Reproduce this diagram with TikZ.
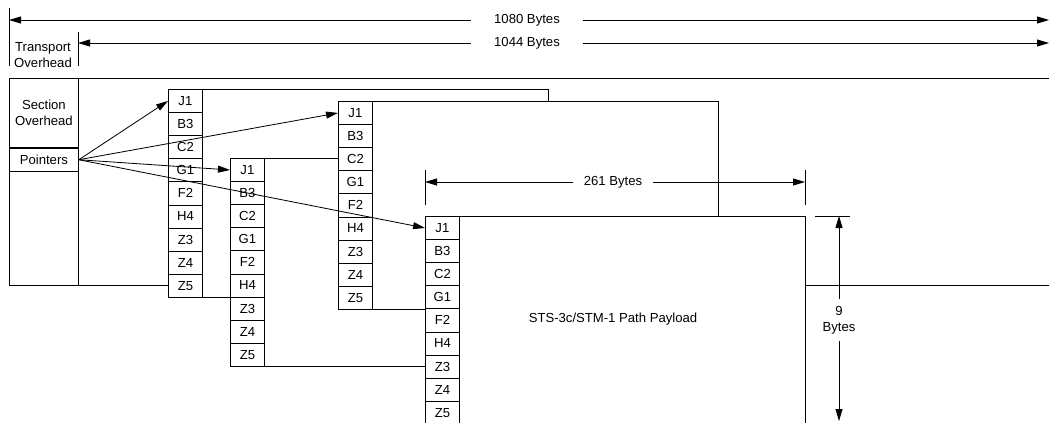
\documentclass[tikz,border=0pt]{standalone}
\usepackage{fontspec}
\setmainfont{Liberation Sans}
\usetikzlibrary{arrows.meta,positioning}

\begin{document}
\begin{tikzpicture}[
			x=0.03cm,y=-0.03cm,
			line width=0.7pt,
			every node/.style={font=\fontsize{11.2}{13.6}\selectfont,align=center},
			ohbox/.style={draw,minimum width=2.07cm,inner sep=0pt},
			cell/.style={draw,fill=white,minimum width=1.02cm,minimum height=0.693cm,inner sep=0pt,anchor=north west},
			arr/.style={-{Triangle[length=3.6mm,width=2.1mm]}},
			dim/.style={{Triangle[length=3.6mm,width=2.1mm]}-{Triangle[length=3.6mm,width=2.1mm]}},
			lbl/.style={fill=white,inner ysep=1pt}
			]
			\useasboundingbox (0,0) rectangle (1049,422);
			% frame of the whole row
			\draw (1049,78) -- (9,78) -- (9,285) -- (1049,285);
			\draw (78,78) -- (78,285);
			\node[ohbox,anchor=north west,minimum height=2.07cm] (soh) at (9,78) {Section\\Overhead};
			\node[ohbox,below=0pt of soh,minimum height=0.69cm] (ptr) {Pointers};
			% the four payload frames, back to front
			\foreach \f/\fx/\fy in {a/168/89, c/230/158, b/338/101, d/425/216} {
				\draw[fill=white] (\fx,\fy) rectangle ++(380,208);
				\foreach \lab [count=\i] in {J1,B3,C2,G1,F2,H4,Z3,Z4,Z5}
					\node[cell] (\f\lab) at (\fx,{\fy+(\i-1)*23.1}) {\lab};
			}
			\node (pay) at (613,319) {STS-3c/STM-1 Path Payload};
			\foreach \t in {aJ1,bJ1,cJ1,dJ1}
				\draw[arr] (ptr.east) -- (\t.west);
			% dimensions
			\coordinate (w0) at (9,20);
			\coordinate (w1) at (1049,20);
			\coordinate (v0) at (78,43);
			\coordinate (v1) at (1049,43);
			\draw (9,8) -- (9,66);
			\draw (78,32) -- (78,66);
			\draw[dim] (w0) -- (w1);
			\draw[dim] (v0) -- (v1);
			\node[lbl,inner xsep=0.69cm] (len1080) at (527,20) {1080 Bytes};
			\node[lbl,inner xsep=0.69cm] (len1044) at (527,43) {1044 Bytes};
			\node (toh) at (43,55) {Transport\\Overhead};
			\coordinate (p0) at (425,182);
			\coordinate (p1) at (805,182);
			\draw (425,170) -- (425,205);
			\draw (805,170) -- (805,205);
			\draw[dim] (p0) -- (p1);
			\node[lbl,inner xsep=0.33cm] (len261) at (613,182) {261 Bytes};
			\coordinate (r0) at (839,216);
			\coordinate (r1) at (839,421);
			\draw (815,216) -- (850,216);
			\draw[dim] (r0) -- (r1);
			\node[lbl,inner ysep=0.2cm] (rows9) at (839,320) {9\\Bytes};
		\end{tikzpicture}
\end{document}
